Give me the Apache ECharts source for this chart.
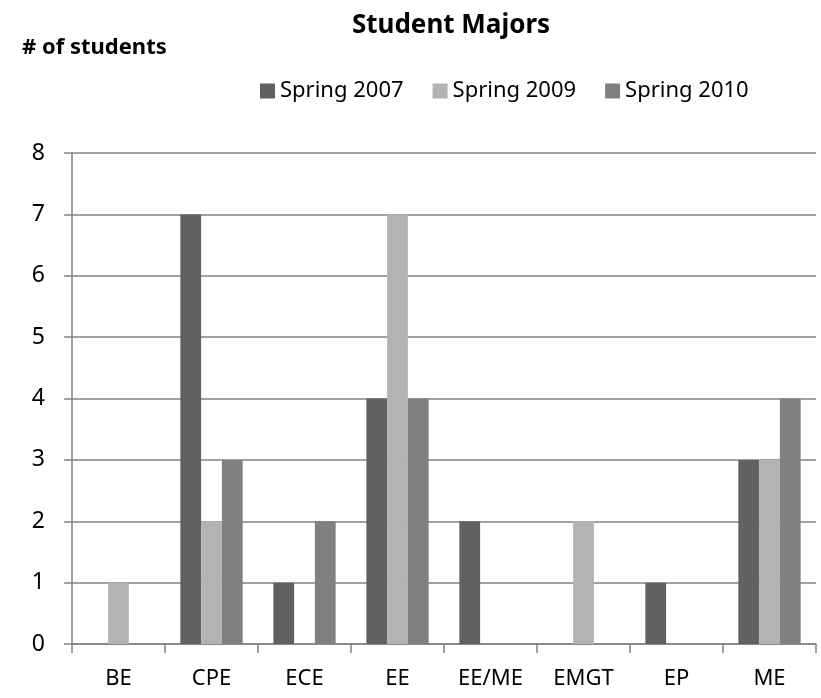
<!DOCTYPE html>
<html>
<head>
<meta charset="utf-8">
<script src="https://cdn.jsdelivr.net/npm/echarts@6/dist/echarts.min.js"></script>
<style>
  html, body { margin: 0; padding: 0; background: #fff; }
  #chart { width: 821px; height: 698px; }
</style>
</head>
<body>
<div id="chart"></div>
<script>
  // majors on the x axis
  var majors = ['BE', 'CPE', 'ECE', 'EE', 'EE/ME', 'EMGT', 'EP', 'ME'];
  var semesters = ['Spring 2007', 'Spring 2009', 'Spring 2010'];
  // students per major, one array per semester
  var spring2007 = [0, 7, 1, 4, 2, 0, 1, 3];
  var spring2009 = [1, 2, 0, 7, 0, 2, 0, 3];
  var spring2010 = [0, 3, 2, 4, 0, 0, 0, 4];
  var yTicks = [0, 1, 2, 3, 4, 5, 6, 7, 8];

  var font = "'Noto Sans', sans-serif";
  var gray = '#828282';

  var chart = echarts.init(document.getElementById('chart'));

  var option = {
    animation: false,
    textStyle: { fontFamily: font },
    title: [
      {
        text: 'Student Majors',
        left: 446, top: 8, textAlign: 'center',
        textStyle: { fontSize: 26, fontWeight: 'bold', color: '#000', fontFamily: font }
      },
      {
        text: '# of students',
        left: 17, top: 32,
        textStyle: { fontSize: 22, fontWeight: 'bold', color: '#000', fontFamily: font }
      }
    ],
    legend: {
      data: semesters,
      left: 255, top: 75,
      itemWidth: 15, itemHeight: 15, itemGap: 29,
      icon: 'rect',
      textStyle: { fontSize: 22, color: '#000', fontFamily: font }
    },
    grid: { left: 72, right: 5, top: 153, bottom: 54 },
    xAxis: {
      type: 'category',
      data: majors,
      axisLine: { lineStyle: { color: gray, width: 1.5 } },
      axisTick: { show: true, length: 9, lineStyle: { color: gray, width: 1.5 } },
      axisLabel: { fontSize: 22, color: '#000', margin: 24, fontFamily: font }
    },
    yAxis: {
      type: 'value',
      min: yTicks[0], max: yTicks[yTicks.length - 1], interval: 1,
      axisLine: { show: true, lineStyle: { color: gray, width: 1.5 } },
      axisTick: { show: true, length: 8, lineStyle: { color: gray, width: 1.5 } },
      axisLabel: { fontSize: 23, color: '#000', margin: 27, fontFamily: font },
      splitLine: { lineStyle: { color: gray, width: 1.5 } }
    },
    series: [
      { name: semesters[0], type: 'bar', data: spring2007, barGap: '0%', barCategoryGap: '33%', itemStyle: { color: '#616161' } },
      { name: semesters[1], type: 'bar', data: spring2009, itemStyle: { color: '#b3b3b3' } },
      { name: semesters[2], type: 'bar', data: spring2010, itemStyle: { color: '#808080' } }
    ]
  };

  chart.setOption(option);
</script>
</body>
</html>
